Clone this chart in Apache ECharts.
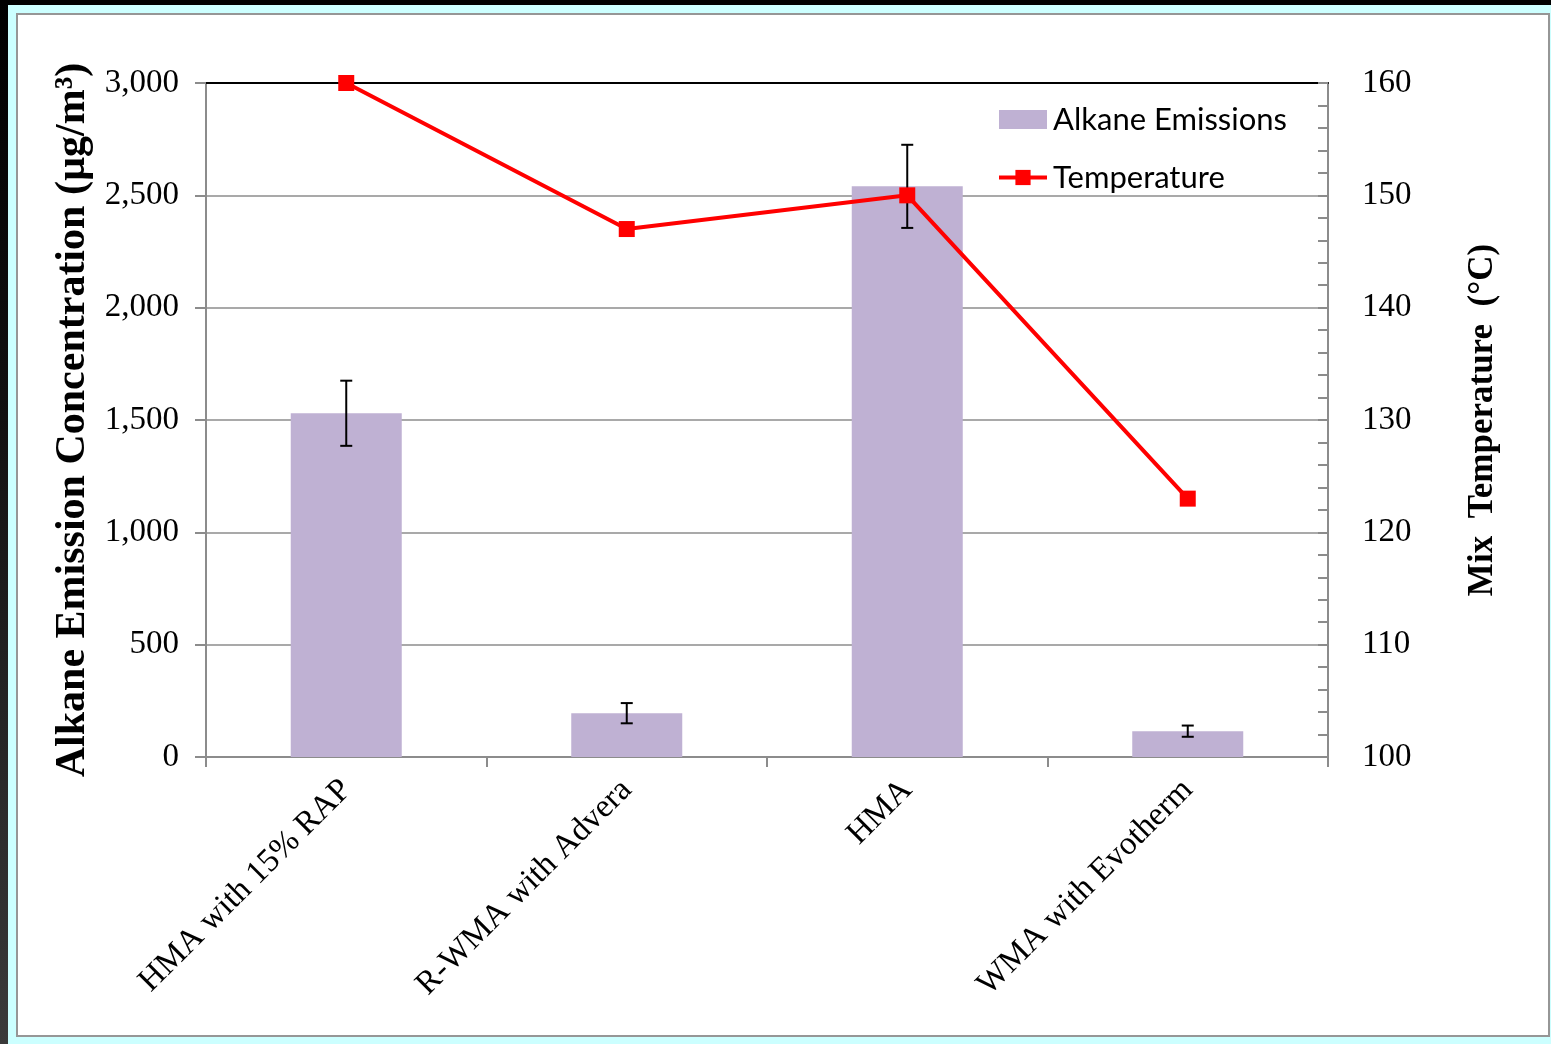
<!DOCTYPE html>
<html>
<head>
<meta charset="utf-8">
<title>Alkane Emissions and Mix Temperature</title>
<script src="https://cdn.jsdelivr.net/npm/echarts@6/dist/echarts.min.js"></script>
<style>
  html, body { margin: 0; padding: 0; }
  body { width: 1551px; height: 1044px; position: relative; overflow: hidden; background: #ccffff; }
  #topbar { position: absolute; left: 0; top: 0; width: 1551px; height: 5px; background: #000; }
  #sidebar { position: absolute; left: 0; top: 0; width: 8px; height: 1044px;
             background: linear-gradient(to bottom, #000 0%, #111 40%, #3a3a3a 100%); }
  #panel { position: absolute; left: 16px; top: 13px; width: 1534px; height: 1024px;
           box-sizing: border-box; border: 2px solid #969696; background: #fff; }
  #chart { position: absolute; left: 0; top: 0; width: 1551px; height: 1044px; }
</style>
</head>
<body>
<div id="topbar"></div>
<div id="sidebar"></div>
<div id="panel"></div>
<div id="chart"></div>
<script>
// Mix types
const categories = ['HMA with 15% RAP', 'R-WMA with Advera', 'HMA', 'WMA with Evotherm'];
// Alkane emission concentration (µg/m³) and its error range
const alkane = [1530, 195, 2540, 115];
const alkaneErr = [145, 45, 185, 25];
// Mix temperature (°C)
const temperature = [160, 147, 150, 123];
// Axis ranges
const leftAxis = { min: 0, max: 3000, interval: 500 };
const rightAxis = { min: 100, max: 160, interval: 10 };

const serif = '"Liberation Serif", "Times New Roman", serif';
const gray = '#8c8c8c';

const errData = categories.map((c, i) => [i, alkane[i] - alkaneErr[i], alkane[i] + alkaneErr[i]]);

const chart = echarts.init(document.getElementById('chart'), null, { renderer: 'canvas' });

chart.setOption({
  backgroundColor: 'transparent',
  animation: false,
  textStyle: { fontFamily: serif },
  grid: { left: 206, top: 83, width: 1122, height: 674, containLabel: false },
  legend: {
    orient: 'vertical',
    left: 997,
    top: 104,
    padding: 0,
    itemWidth: 48,
    itemHeight: 19,
    itemGap: 27,
    lineStyle: { width: 4 },
    textStyle: { fontFamily: 'Lato, "Liberation Sans", sans-serif', fontSize: 31, color: '#000', padding: [0, 0, 0, 1] },
    data: [
      { name: 'Alkane Emissions', icon: 'rect' },
      { name: 'Temperature' }
    ]
  },
  xAxis: [
    {
      type: 'category',
      data: categories,
      position: 'bottom',
      axisLine: { lineStyle: { color: gray, width: 2 } },
      axisTick: { show: true, length: 10, alignWithLabel: false, lineStyle: { color: gray, width: 2 } },
      axisLabel: { rotate: 45, margin: 28, fontSize: 33, color: '#000', fontFamily: serif, interval: 0 },
      splitLine: { show: false }
    },
    {
      type: 'category',
      data: categories,
      position: 'top',
      axisLine: { lineStyle: { color: '#000', width: 2 } },
      axisTick: { show: false },
      axisLabel: { show: false }
    }
  ],
  yAxis: [
    {
      type: 'value',
      position: 'left',
      min: leftAxis.min, max: leftAxis.max, interval: leftAxis.interval,
      name: 'Alkane Emission Concentration (µg/m³)',
      nameLocation: 'middle',
      nameRotate: 90,
      nameGap: 110,
      nameTextStyle: { fontFamily: serif, fontWeight: 'bold', fontSize: 42, color: '#000' },
      axisLine: { show: true, lineStyle: { color: gray, width: 2 } },
      axisTick: { show: true, length: 11, lineStyle: { color: gray, width: 2 } },
      axisLabel: {
        margin: 27, fontSize: 33, color: '#000', fontFamily: serif,
        formatter: v => v.toLocaleString('en-US')
      },
      splitLine: { show: true, lineStyle: { color: gray, width: 1.5 } }
    },
    {
      type: 'value',
      position: 'right',
      min: rightAxis.min, max: rightAxis.max, interval: rightAxis.interval,
      name: 'Mix  Temperature  (°C)',
      nameLocation: 'middle',
      nameRotate: 90,
      nameGap: 137,
      nameTextStyle: { fontFamily: serif, fontWeight: 'bold', fontSize: 35, color: '#000' },
      axisLine: { show: true, lineStyle: { color: gray, width: 2 } },
      axisTick: { show: true, inside: true, length: 10, lineStyle: { color: gray, width: 2 } },
      minorTick: { show: true, splitNumber: 5, length: 10, lineStyle: { color: gray, width: 2 } },
      axisLabel: { margin: 34, fontSize: 33, color: '#000', fontFamily: serif },
      splitLine: { show: false }
    }
  ],
  series: [
    {
      name: 'Alkane Emissions',
      type: 'bar',
      xAxisIndex: 0,
      yAxisIndex: 0,
      data: alkane,
      barWidth: 111,
      itemStyle: { color: '#bfb1d3' },
      z: 2
    },
    {
      name: 'Alkane error',
      type: 'custom',
      xAxisIndex: 0,
      yAxisIndex: 0,
      data: errData,
      z: 3,
      renderItem: function (params, api) {
        const x = api.value(0);
        const lo = api.coord([x, api.value(1)]);
        const hi = api.coord([x, api.value(2)]);
        const cap = 6;
        const style = { stroke: '#000', lineWidth: 2 };
        return {
          type: 'group',
          children: [
            { type: 'line', shape: { x1: lo[0], y1: lo[1], x2: hi[0], y2: hi[1] }, style },
            { type: 'line', shape: { x1: hi[0] - cap, y1: hi[1], x2: hi[0] + cap, y2: hi[1] }, style },
            { type: 'line', shape: { x1: lo[0] - cap, y1: lo[1], x2: lo[0] + cap, y2: lo[1] }, style }
          ]
        };
      }
    },
    {
      name: 'Temperature',
      type: 'line',
      xAxisIndex: 0,
      yAxisIndex: 1,
      data: temperature,
      symbol: 'rect',
      symbolSize: 16,
      lineStyle: { color: '#ff0000', width: 4 },
      itemStyle: { color: '#ff0000' },
      z: 5
    }
  ]
});
</script>
</body>
</html>
